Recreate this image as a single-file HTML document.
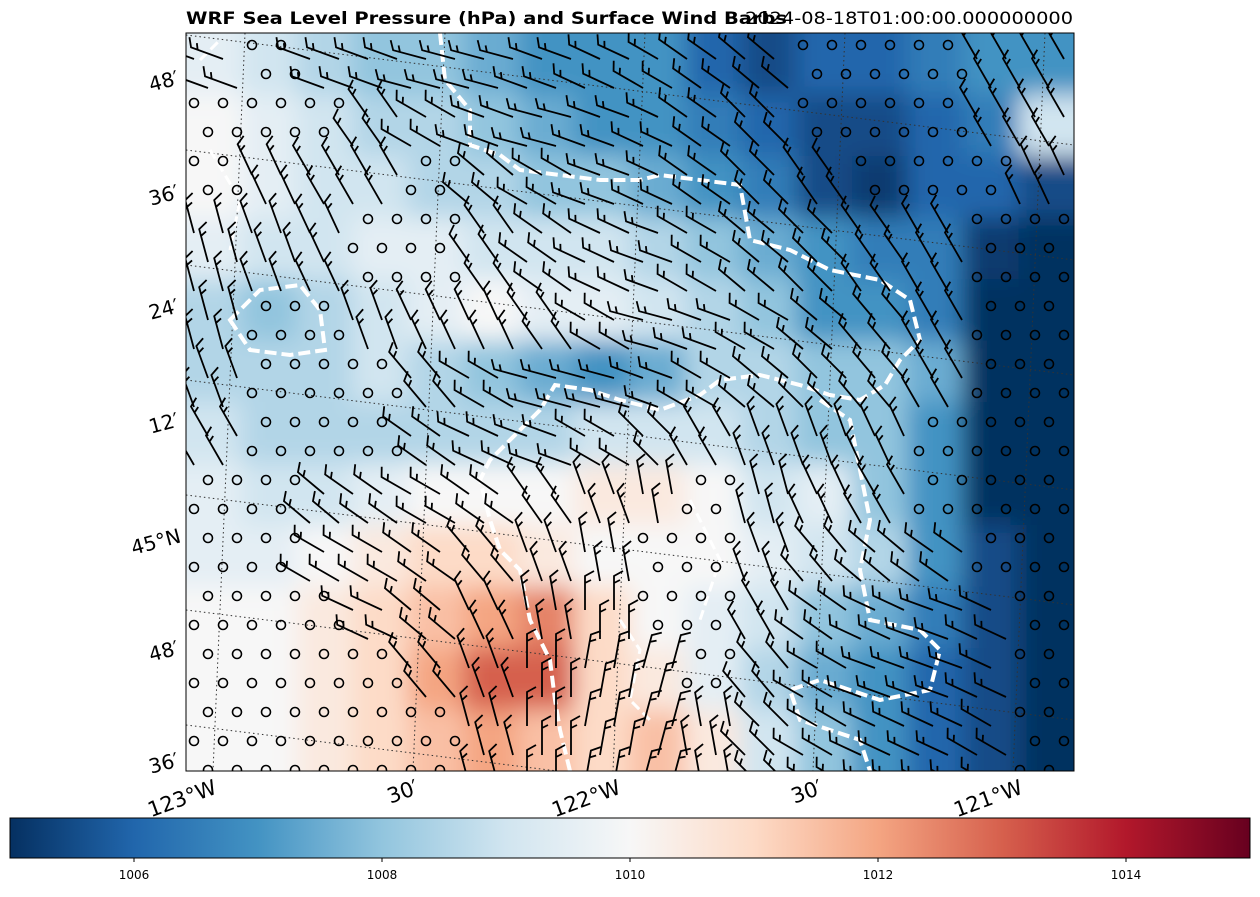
<!DOCTYPE html>
<html><head><meta charset="utf-8">
<style>
html,body{margin:0;padding:0;background:#fff;}
body{width:1260px;height:893px;overflow:hidden;font-family:"DejaVu Sans","Liberation Sans",sans-serif;}
</style></head>
<body>
<svg id="chart" width="1260" height="893" xmlns="http://www.w3.org/2000/svg" font-family="DejaVu Sans, Liberation Sans, sans-serif">
<defs>
<clipPath id="plotclip"><rect x="186" y="33" width="888" height="738"/></clipPath>
<filter id="soft" x="-5%" y="-5%" width="110%" height="110%"><feGaussianBlur stdDeviation="12"/></filter>
<linearGradient id="cbgrad" x1="0" x2="1" y1="0" y2="0">
<stop offset="0" stop-color="#053061"/><stop offset="0.1" stop-color="#2166ac"/><stop offset="0.2" stop-color="#4393c3"/>
<stop offset="0.3" stop-color="#92c5de"/><stop offset="0.4" stop-color="#d1e5f0"/><stop offset="0.5" stop-color="#f7f7f7"/>
<stop offset="0.6" stop-color="#fddbc7"/><stop offset="0.7" stop-color="#f4a582"/><stop offset="0.8" stop-color="#d6604d"/>
<stop offset="0.9" stop-color="#b2182b"/><stop offset="1" stop-color="#67001f"/></linearGradient>
</defs>
<text x="186" y="24" font-size="17" font-weight="bold" textLength="601" lengthAdjust="spacingAndGlyphs">WRF Sea Level Pressure (hPa) and Surface Wind Barbs</text>
<text x="1073" y="24" font-size="17" text-anchor="end" textLength="328" lengthAdjust="spacingAndGlyphs">2024-08-18T01:00:00.000000000</text>
<g clip-path="url(#plotclip)">
<rect x="186" y="33" width="888" height="738" fill="#dbe9f3"/>
<g id="heat" filter="url(#soft)"></g>
<g id="grid" stroke="#333" stroke-width="1" stroke-dasharray="1.5,3" fill="none">
<path d="M186,150 L1074,260"/><path d="M186,265 L1074,375"/><path d="M186,380 L1074,490"/>
<path d="M186,495 L1074,605"/><path d="M186,610 L1074,720"/><path d="M186,725 L1074,835"/><path d="M186,35 L1074,145"/>
<path d="M245,33 L213,771"/><path d="M445,33 L413,771"/><path d="M645,33 L613,771"/><path d="M845,33 L813,771"/><path d="M1045,33 L1013,771"/>
</g>
<path fill="none" stroke="#fff" stroke-width="4" stroke-dasharray="12,5"
d="M440,33 L445,80 L470,110 L470,145 L500,155 L520,170 L560,175 L600,180 L640,180 L660,175 L700,180 L740,185 L750,240 L790,250 L830,270 L880,280 L910,300 L920,340 L900,360 L885,385 L860,400 L830,395 L800,385 L760,375 L720,380 L700,395 L660,410 L620,400 L590,390 L555,385 L540,410 L510,440 L490,460 L480,480 L490,520 L500,550 L520,570 L530,620 L540,640 L550,660 L555,700 L560,730 L570,771"/>
<path fill="none" stroke="#fff" stroke-width="4" stroke-dasharray="12,5"
d="M820,400 L850,420 L860,470 L870,520 L860,570 L870,620 L920,630 L940,650 L930,690 L880,700 L850,690 L820,680 L790,690 L800,720 L830,730 L860,740 L870,771"/>
<path fill="none" stroke="#fff" stroke-width="4" stroke-dasharray="12,5"
d="M230,320 L260,290 L300,285 L320,310 L325,350 L290,355 L250,350 Z"/>
<path fill="none" stroke="#fff" stroke-width="3" stroke-dasharray="10,5"
d="M200,60 L220,40 M210,150 L240,200 L230,250 M620,620 L640,650 L630,700 L650,720 M690,500 L720,560 L700,620"/>
<g id="barbs"></g>
</g>
<rect x="186" y="33" width="888" height="738" fill="none" stroke="#000" stroke-width="1"/>
<g font-size="20">
<text x="180" y="84" text-anchor="end" transform="rotate(-15 180 84)">48′</text>
<text x="180" y="198" text-anchor="end" transform="rotate(-15 180 198)">36′</text>
<text x="180" y="312" text-anchor="end" transform="rotate(-15 180 312)">24′</text>
<text x="180" y="426" text-anchor="end" transform="rotate(-15 180 426)">12′</text>
<text x="182" y="542" text-anchor="end" transform="rotate(-15 182 542)">45°N</text>
<text x="180" y="654" text-anchor="end" transform="rotate(-15 180 654)">48′</text>
<text x="180" y="766" text-anchor="end" transform="rotate(-15 180 766)">36′</text>
</g>
<g font-size="21">
<text x="218" y="793" text-anchor="end" transform="rotate(-20 218 793)">123°W</text>
<text x="420" y="793" text-anchor="end" transform="rotate(-20 420 793)">30′</text>
<text x="622" y="793" text-anchor="end" transform="rotate(-20 622 793)">122°W</text>
<text x="824" y="793" text-anchor="end" transform="rotate(-20 824 793)">30′</text>
<text x="1024" y="793" text-anchor="end" transform="rotate(-20 1024 793)">121°W</text>
</g>
<g>
<rect x="10" y="818" width="1240" height="40" fill="url(#cbgrad)" stroke="#000" stroke-width="1"/>
<g id="cbticks" font-size="12"></g>
</g>
</svg>
<script>
const cbTickValues = [1006, 1008, 1010, 1012, 1014];
const vmin = 1005, vmax = 1015;
const pressure = [
[1009.5,1009,1008.5,1008,1008,1007.5,1007,1007,1007,1006,1005.5,1006,1006,1006.5,1007,1007],
[1010,1009.5,1009,1008.5,1008.5,1008,1007.5,1007,1007,1006.5,1006,1005.5,1005.5,1006,1006.5,1009],
[1010,1009.5,1009,1009,1008.5,1008.5,1008,1008,1007.5,1007,1006.5,1005.5,1005.2,1006,1006,1005.5],
[1009.5,1009,1009,1009.5,1009.5,1009,1009,1009,1008.5,1008,1007.5,1007,1006.5,1006.5,1005.2,1005],
[1008.5,1008,1008.5,1009,1009.5,1010,1009.5,1009.5,1009,1008.5,1008,1007,1007,1006.5,1005,1005],
[1008.5,1008.5,1008.5,1009,1008.5,1008,1007.5,1007,1007.5,1008.5,1008.5,1008,1008,1007.5,1005,1005],
[1009,1008.5,1008.5,1008.5,1008.5,1008.5,1008.5,1009,1009,1009,1008.5,1008,1008,1007,1005,1005],
[1009.5,1009,1009,1009.5,1010,1010,1010,1010.5,1010.5,1010,1009,1009.5,1008,1007,1005,1005],
[1009.5,1009.5,1010,1010.5,1011,1011,1010.5,1010,1010,1010,1009.5,1009,1008.5,1007,1005.5,1005],
[1010,1010,1010.5,1011,1011.5,1012,1012.5,1011,1010,1009.5,1009,1008,1007.5,1006.5,1005.5,1005],
[1010,1010,1010.5,1011,1012,1013,1013,1011,1010.5,1009.5,1008.5,1007.5,1007,1006,1005.5,1005],
[1010,1010,1010.5,1011,1011.5,1012,1011.5,1011,1011.5,1010.5,1009,1008,1007,1006,1005.5,1005]
];
const windy = [
[1,0,1,1,1,1,1,1,1,1,1,0,0,0,1,1],
[0,0,0,1,1,1,1,1,1,1,1,0,0,0,1,1],
[0,1,1,1,0,1,1,1,1,1,1,1,0,0,0,1],
[1,1,1,0,0,1,1,1,1,1,1,1,1,1,0,0],
[1,0,0,1,1,1,1,1,1,1,1,1,1,1,0,0],
[1,0,0,0,1,1,1,1,1,1,1,1,1,1,0,0],
[1,0,0,0,1,1,1,1,1,1,1,1,1,0,0,0],
[0,0,1,1,1,1,1,1,1,0,1,1,1,0,0,0],
[0,0,1,1,1,1,1,1,0,0,1,1,1,1,0,0],
[0,0,0,1,1,1,1,1,0,0,1,1,1,1,1,0],
[0,0,0,0,1,1,1,1,1,0,1,1,1,1,1,0],
[0,0,0,0,0,1,1,1,1,1,1,1,1,1,1,0]
];
const windDir = [
[-70,-30,-70,-70,-75,-75,-70,-65,-60,-55,-50,-40,-40,-30,-30,-30],
[-30,-30,-30,-35,-60,-70,-75,-70,-65,-55,-45,-40,-35,-30,-30,-30],
[-20,-25,-30,-30,-35,-50,-60,-70,-65,-55,-45,-35,-30,-30,-25,-25],
[-15,-20,-25,-25,-30,-35,-55,-65,-70,-60,-50,-45,-35,-30,-25,-25],
[-15,-20,-20,-20,-25,-25,-35,-60,-75,-70,-60,-50,-40,-30,-25,-25],
[-20,-20,-20,-25,-40,-60,-75,-75,-70,-60,-50,-45,-40,-30,-25,-25],
[-30,-30,-35,-40,-55,-65,-70,-60,-45,-30,-20,-20,-25,-30,-25,-25],
[-40,-45,-50,-55,-60,-55,-35,-20,-10,-10,-15,-25,-30,-30,-25,-25],
[-55,-55,-60,-60,-55,-40,-20,-10,0,-10,-20,-40,-50,-55,-25,-25],
[-75,-75,-75,-65,-50,-25,-10,0,10,-10,-30,-55,-65,-70,-65,-25],
[-78,-78,-75,-70,-40,-20,0,10,15,0,-40,-60,-70,-70,-65,-25],
[-80,-80,-78,-70,-35,-15,0,10,15,-10,-45,-60,-65,-65,-60,-25]
];
const stops=[[5,48,97],[33,102,172],[67,147,195],[146,197,222],[209,229,240],[247,247,247],[253,219,199],[244,165,130],[214,96,77],[178,24,43],[103,0,31]];
function cmap(v){let t=(v-vmin)/(vmax-vmin);t=Math.max(0,Math.min(1,t))*10;const i=Math.min(9,Math.floor(t)),f=t-i;const a=stops[i],b=stops[i+1];return 'rgb('+a.map((c,k)=>Math.round(c+(b[k]-c)*f)).join(',')+')';}
const X0=186,Y0=33,W=888,H=738,nr=pressure.length,nc=pressure[0].length,cw=W/nc,ch=H/nr;
const NS='http://www.w3.org/2000/svg';
const heat=document.getElementById('heat');
for(let r=-1;r<=nr;r++)for(let c=-1;c<=nc;c++){
 const rr=Math.max(0,Math.min(nr-1,r)),cc=Math.max(0,Math.min(nc-1,c));
 const el=document.createElementNS(NS,'rect');
 el.setAttribute('x',X0+c*cw);el.setAttribute('y',Y0+r*ch);el.setAttribute('width',cw+1);el.setAttribute('height',ch+1);
 el.setAttribute('fill',cmap(pressure[rr][cc]));
 
 
 heat.appendChild(el);
}
const barbs=document.getElementById('barbs');
const sp=29;
for(let y=Y0+12,row=0;y<Y0+H;y+=sp,row++){
 for(let x=X0+8+(row%2)*14;x<X0+W;x+=sp){
  const r=Math.min(nr-1,Math.floor((y-Y0)/ch)),c=Math.min(nc-1,Math.floor((x-X0)/cw));
  if(windy[r][c]){
   const g=document.createElementNS(NS,'path');
   g.setAttribute('d','M0,0 L0,-34 L9,-39 M0,-27 L6,-30');
   g.setAttribute('transform','translate('+x+','+(y+14)+') rotate('+windDir[r][c]+')');
   g.setAttribute('stroke','#000');g.setAttribute('stroke-width','1.8');g.setAttribute('fill','none');
   
   
   barbs.appendChild(g);
  } else {
   const e=document.createElementNS(NS,'circle');
   e.setAttribute('cx',x);e.setAttribute('cy',y);e.setAttribute('r',4.5);
   e.setAttribute('stroke','#000');e.setAttribute('stroke-width','1.6');e.setAttribute('fill','none');
   
   
   barbs.appendChild(e);
  }
 }
}
const cbt=document.getElementById('cbticks');
cbTickValues.forEach(v=>{
 const x=10+(v-vmin)/(vmax-vmin)*1240;
 const l=document.createElementNS(NS,'line');
 l.setAttribute('x1',x);l.setAttribute('x2',x);l.setAttribute('y1',858);l.setAttribute('y2',862);l.setAttribute('stroke','#000');
 
 
 cbt.appendChild(l);
 const t=document.createElementNS(NS,'text');
 t.setAttribute('x',x);t.setAttribute('y',879);t.setAttribute('text-anchor','middle');t.textContent=v;
 
 
 cbt.appendChild(t);
});
</script>
</body></html>
